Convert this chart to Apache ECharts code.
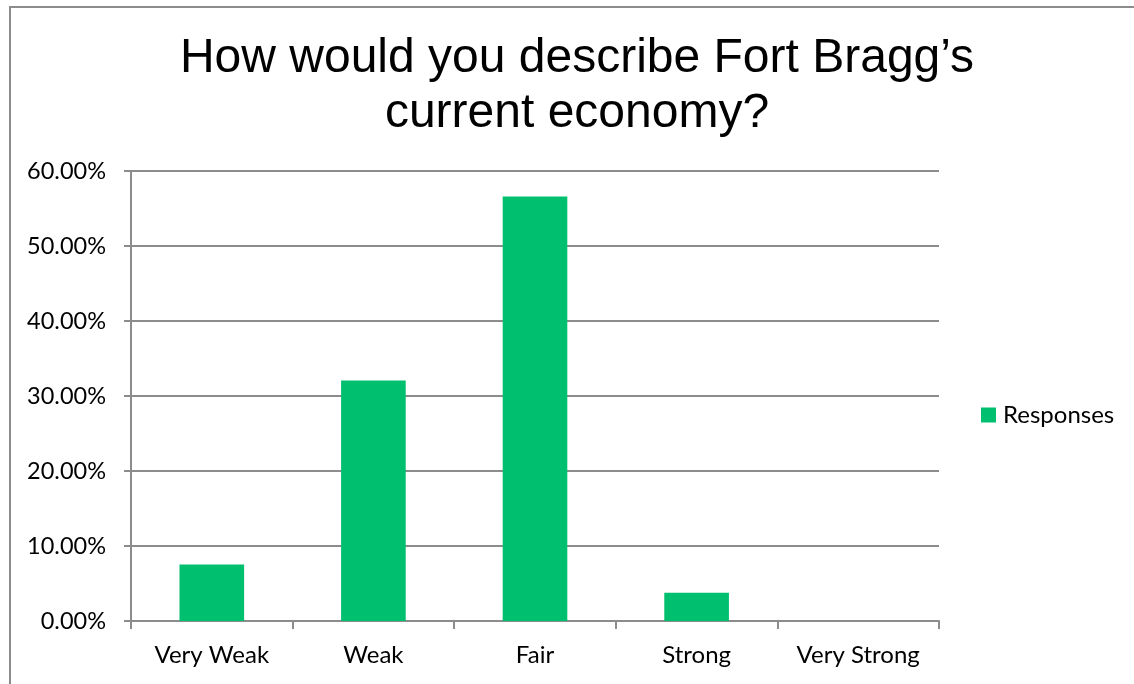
<!DOCTYPE html>
<html>
<head>
<meta charset="utf-8">
<script src="https://cdn.jsdelivr.net/npm/echarts@6/dist/echarts.min.js"></script>
<style>
  html, body { margin: 0; padding: 0; background: #ffffff; }
  #chart { width: 1134px; height: 684px; }
</style>
</head>
<body>
<div id="chart"></div>
<script>
// Survey answers and their share of responses
const categories = ['Very Weak', 'Weak', 'Fair', 'Strong', 'Very Strong'];
const responses = [0.0755, 0.3208, 0.5660, 0.0377, 0];
const seriesName = 'Responses';
const titleText = 'How would you describe Fort Bragg\u2019s\ncurrent economy?';

const axisGray = '#8c8c8c';
const barGreen = '#00bf6f';
const labelFont = 'Lato, "Open Sans", sans-serif';

const chart = echarts.init(document.getElementById('chart'), null, { renderer: 'canvas' });

chart.setOption({
  backgroundColor: '#ffffff',
  animation: false,
  title: {
    text: titleText,
    left: 577,
    textAlign: 'center',
    top: 31,
    padding: 0,
    textStyle: {
      fontFamily: '"Liberation Sans", Arial, sans-serif',
      fontSize: 48,
      fontWeight: 'normal',
      color: '#000000',
      lineHeight: 55
    }
  },
  legend: {
    data: [seriesName],
    left: 981,
    top: 403,
    padding: 0,
    orient: 'vertical',
    icon: 'rect',
    itemWidth: 15,
    itemHeight: 15,
    itemGap: 6,
    textStyle: { fontFamily: labelFont, fontSize: 24, color: '#000000', padding: [0, 0, 0, 2] }
  },
  grid: { left: 131, right: 195, top: 171, bottom: 63, containLabel: false },
  xAxis: {
    type: 'category',
    data: categories,
    axisLine: { show: true, lineStyle: { color: axisGray, width: 2 } },
    axisTick: { show: true, alignWithLabel: false, length: 8, lineStyle: { color: axisGray, width: 2 } },
    axisLabel: { fontFamily: labelFont, fontSize: 24, color: '#000000', margin: 22 },
    splitLine: { show: false }
  },
  yAxis: {
    type: 'value',
    min: 0,
    max: 0.6,
    interval: 0.1,
    axisLine: { show: true, lineStyle: { color: axisGray, width: 2 } },
    axisTick: { show: true, length: 7, lineStyle: { color: axisGray, width: 2 } },
    axisLabel: {
      fontFamily: labelFont,
      fontSize: 23.5,
      color: '#000000',
      margin: 25,
      formatter: v => (v * 100).toFixed(2) + '%'
    },
    splitLine: { show: true, lineStyle: { color: axisGray, width: 2 } }
  },
  series: [{
    name: seriesName,
    type: 'bar',
    data: responses,
    barWidth: '40%',
    itemStyle: { color: barGreen }
  }],
  graphic: [
    // chart frame: top and left edges
    { type: 'line', shape: { x1: 9, y1: 7, x2: 1134, y2: 7 }, style: { stroke: axisGray, lineWidth: 2 }, z: 10 },
    { type: 'line', shape: { x1: 10, y1: 7, x2: 10, y2: 684 }, style: { stroke: axisGray, lineWidth: 2 }, z: 10 }
  ]
});
</script>
</body>
</html>
